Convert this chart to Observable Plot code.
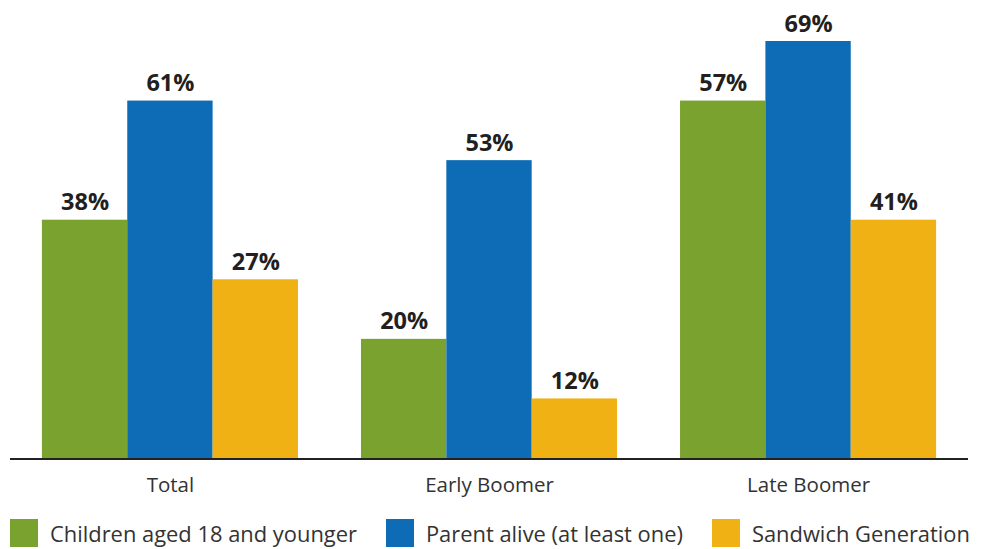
<!DOCTYPE html>
<html>
<head>
<meta charset="utf-8">
<script src="https://cdn.jsdelivr.net/npm/d3@7"></script>
<script src="https://cdn.jsdelivr.net/npm/@observablehq/plot@0.6"></script>
<style>
  html, body { margin: 0; padding: 0; background: #fff; }
  body { width: 982px; height: 549px; overflow: hidden; font-family: "Open Sans", sans-serif; }
  #legend { display: flex; align-items: center; margin: 14px 0 0 10px; height: 28px; }
  .item { display: flex; align-items: center; margin-right: 29px; }
  .item:last-child { margin-right: 0; }
  .sw { width: 28px; height: 28px; margin-right: 12px; flex: none; }
  .lab { font-size: 21.9px; color: #333; white-space: nowrap; }
</style>
</head>
<body>
<div id="chart"></div>
<div id="legend"></div>
<script>
const groups = ["Total", "Early Boomer", "Late Boomer"];
const series = ["Children aged 18 and younger", "Parent alive (at least one)", "Sandwich Generation"];
const colors = ["#7AA22F", "#0D6CB5", "#EFB114"];
// Labelled values (%)
const children = [38, 20, 57];
const parent = [61, 53, 69];
const sandwich = [27, 12, 41];
// Bar heights as drawn in the picture (%)
const childrenBar = [40, 20, 60];
const parentBar = [60, 50, 70];
const sandwichBar = [30, 10, 40];

const values = [children, parent, sandwich];
const bars = [childrenBar, parentBar, sandwichBar];
const data = [];
groups.forEach((g, gi) => {
  series.forEach((s, si) => {
    data.push({group: g, series: s, value: values[si][gi], bar: bars[si][gi]});
  });
});

const W = 982, H = 505, ML = 10, MR = 14, MT = 41, MB = 47;

const plot = Plot.plot({
  width: W,
  height: H,
  marginLeft: ML,
  marginRight: MR,
  marginTop: MT,
  marginBottom: MB,
  style: {fontFamily: "'Open Sans', sans-serif", background: "#fff", overflow: "visible"},
  fx: {domain: groups, paddingInner: 0.1975, paddingOuter: 0.1, round: false, label: null},
  x: {domain: series, padding: 0, round: false, axis: null},
  y: {domain: [0, 70], axis: null},
  color: {domain: series, range: colors},
  marks: [
    Plot.barY(data, {fx: "group", x: "series", y: "bar", fill: "series", inset: 0}),
    Plot.text(data, {fx: "group", x: "series", y: "bar", text: d => d.value + "%",
      lineAnchor: "bottom", dy: -10, fontSize: 23.5, fontWeight: 700, fill: "#231F20"}),
    Plot.axisFx({anchor: "bottom", tickSize: 0, tickPadding: 19, fontSize: 20.5, fill: "#333", label: null})
  ]
});
document.getElementById("chart").appendChild(plot);

// baseline across the full frame
const y0 = plot.scale("y").apply(0);
d3.select(plot).append("line")
  .attr("x1", ML).attr("x2", W - MR)
  .attr("y1", y0 + 1).attr("y2", y0 + 1)
  .attr("stroke", "#222").attr("stroke-width", 2);

const legend = d3.select("#legend");
series.forEach((s, i) => {
  const it = legend.append("div").attr("class", "item");
  it.append("div").attr("class", "sw").style("background", colors[i]);
  it.append("div").attr("class", "lab").text(s);
});
</script>
</body>
</html>
